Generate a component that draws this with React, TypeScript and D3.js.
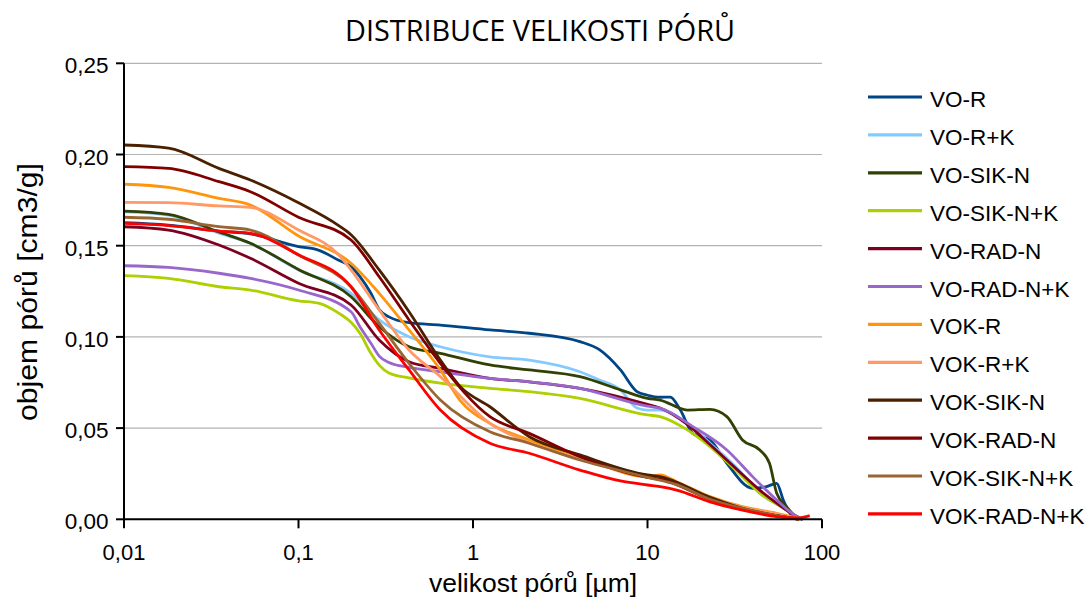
import React from "react";
import * as d3 from "d3";

const TITLE = "DISTRIBUCE VELIKOSTI PÓRŮ";
const X_TITLE = "velikost pórů [µm]";
const Y_TITLE = "objem pórů [cm3/g]";
const X_TICKS = [0.01, 0.1, 1, 10, 100];
const X_TICK_LABELS = ["0,01", "0,1", "1", "10", "100"];
const Y_TICKS = [0, 0.05, 0.1, 0.15, 0.2, 0.25];
const Y_TICK_LABELS = ["0,00", "0,05", "0,10", "0,15", "0,20", "0,25"];

const SERIES_NAMES = [
  "VO-R", "VO-R+K", "VO-SIK-N", "VO-SIK-N+K", "VO-RAD-N", "VO-RAD-N+K",
  "VOK-R", "VOK-R+K", "VOK-SIK-N", "VOK-RAD-N", "VOK-SIK-N+K", "VOK-RAD-N+K",
];
const SERIES_COLORS = [
  "#004586", "#83caff", "#314004", "#aecf00", "#7e0021", "#9966cc",
  "#ff950e", "#ff9966", "#4b2000", "#800000", "#996633", "#ff0000",
];

// [pore size µm, volume cm3/g]
const VO_R: [number, number][] = [
  [0.01, 0.1626], [0.018, 0.1613], [0.035, 0.158], [0.053, 0.1565], [0.1, 0.1495], [0.13, 0.1476],
  [0.17, 0.142], [0.2, 0.1385], [0.225, 0.133], [0.26, 0.1239], [0.29, 0.115], [0.33, 0.111],
  [0.43, 0.1078], [0.65, 0.1065], [1.25, 0.1038], [2.1, 0.102], [4.1, 0.0974], [5.3, 0.093],
  [7, 0.0819], [8.7, 0.07], [10, 0.068], [11.8, 0.0669], [13.5, 0.067], [15.4, 0.06],
  [18.2, 0.047], [22.8, 0.0435], [28.5, 0.0307], [40, 0.017], [48, 0.0179], [55, 0.0197],
  [60, 0.0106], [68, 0.0014], [77.5, 0],
];
const VO_R_K: [number, number][] = [
  [0.01, 0.1686], [0.018, 0.1668], [0.035, 0.1568], [0.053, 0.1513], [0.1, 0.1367], [0.2, 0.1239],
  [0.29, 0.1093], [0.43, 0.1001], [0.65, 0.0946], [1.25, 0.0891], [2.1, 0.0873], [4.1, 0.0809],
  [5.3, 0.0764], [7, 0.0709], [8.7, 0.061], [10, 0.0599], [11.8, 0.0599], [16.9, 0.0526],
  [22.8, 0.0417], [32, 0.0288], [44, 0.0143], [62.6, 0.005], [74, 0],
];
const VO_SIK_N: [number, number][] = [
  [0.01, 0.169], [0.018, 0.1672], [0.035, 0.1575], [0.053, 0.1513], [0.1, 0.137], [0.2, 0.122],
  [0.29, 0.1056], [0.43, 0.0946], [0.65, 0.091], [1.25, 0.0846], [2.1, 0.0819], [4.1, 0.0782],
  [7, 0.071], [10, 0.0663], [11.8, 0.0654], [16.9, 0.0599], [22.8, 0.0603], [28.5, 0.0563],
  [35, 0.0435], [44, 0.038], [50, 0.0307], [55, 0.0143], [62.6, 0.0069], [68, 0.003], [77.5, 0],
];
const VO_SIK_N_K: [number, number][] = [
  [0.01, 0.1336], [0.018, 0.1321], [0.035, 0.1275], [0.053, 0.1257], [0.1, 0.1198], [0.13, 0.1185],
  [0.17, 0.113], [0.2, 0.108], [0.225, 0.102], [0.26, 0.091], [0.29, 0.0845], [0.33, 0.0802],
  [0.43, 0.0775], [0.65, 0.0746], [1.25, 0.0718], [2.1, 0.07], [4.1, 0.0663], [10, 0.0572],
  [11.8, 0.0563], [16.9, 0.049], [22.8, 0.0398], [32, 0.027], [44, 0.0143], [62.6, 0.005], [74, 0],
];
const VO_RAD_N: [number, number][] = [
  [0.01, 0.1604], [0.018, 0.1586], [0.035, 0.1504], [0.053, 0.1431], [0.1, 0.1294], [0.2, 0.1175],
  [0.29, 0.0983], [0.43, 0.0864], [0.65, 0.0828], [1.25, 0.0773], [2.1, 0.0754], [4.1, 0.0718],
  [10, 0.063], [11.8, 0.061], [16.9, 0.052], [22.8, 0.041], [32, 0.028], [44, 0.016],
  [62.6, 0.005], [74, 0],
];
const VO_RAD_N_K: [number, number][] = [
  [0.01, 0.139], [0.018, 0.1381], [0.035, 0.1349], [0.053, 0.1321], [0.1, 0.1257], [0.2, 0.1138],
  [0.225, 0.1056], [0.26, 0.0965], [0.29, 0.0895], [0.33, 0.086], [0.43, 0.0833], [0.65, 0.0809],
  [1.25, 0.0773], [2.1, 0.0754], [4.1, 0.0718], [10, 0.062], [11.8, 0.0609], [18.2, 0.0508],
  [28.5, 0.038], [40, 0.0234], [55, 0.0106], [68, 0.003], [77.5, 0],
];
const VOK_R: [number, number][] = [
  [0.01, 0.1837], [0.018, 0.182], [0.035, 0.176], [0.053, 0.1723], [0.1, 0.1553], [0.2, 0.1404],
  [0.29, 0.1239], [0.43, 0.1038], [0.65, 0.0819], [0.84, 0.0654], [1.25, 0.0526], [2.1, 0.0435],
  [4.1, 0.0343], [10, 0.0234], [11.8, 0.0243], [14.7, 0.0206], [22.8, 0.0124], [35, 0.0069],
  [55, 0.0033], [74, 0.0005],
];
const VOK_R_K: [number, number][] = [
  [0.01, 0.1738], [0.018, 0.1736], [0.035, 0.1718], [0.053, 0.171], [0.1, 0.1586], [0.17, 0.145],
  [0.2, 0.1367], [0.29, 0.1148], [0.43, 0.0928], [0.65, 0.0782], [1.25, 0.0526], [2.1, 0.042],
  [4.1, 0.033], [10, 0.023], [14.7, 0.02], [22.8, 0.012], [35, 0.0065], [55, 0.003], [74, 0],
];
const VOK_SIK_N: [number, number][] = [
  [0.01, 0.2052], [0.018, 0.2035], [0.035, 0.1924], [0.053, 0.186], [0.1, 0.1735], [0.17, 0.161],
  [0.2, 0.156], [0.29, 0.1367], [0.43, 0.1138], [0.65, 0.0873], [0.84, 0.073], [1.25, 0.0617],
  [2.1, 0.0453], [4.1, 0.0353], [10, 0.0243], [11.8, 0.0234], [22.8, 0.012], [35, 0.006],
  [55, 0.002], [74, 0],
];
const VOK_RAD_N: [number, number][] = [
  [0.01, 0.1933], [0.018, 0.1924], [0.035, 0.1851], [0.053, 0.1796], [0.1, 0.1656], [0.2, 0.1531],
  [0.29, 0.133], [0.43, 0.1093], [0.65, 0.0855], [1.25, 0.0563], [2.1, 0.0471], [4.1, 0.0343],
  [10, 0.023], [11.8, 0.022], [22.8, 0.011], [35, 0.0055], [55, 0.002], [74, 0],
];
const VOK_SIK_N_K: [number, number][] = [
  [0.01, 0.1656], [0.018, 0.1645], [0.035, 0.1604], [0.053, 0.1586], [0.1, 0.1449], [0.2, 0.1275],
  [0.29, 0.1075], [0.43, 0.0855], [0.65, 0.0654], [1.25, 0.048], [2.1, 0.0417], [4.1, 0.0325],
  [10, 0.023], [14.7, 0.019], [22.8, 0.011], [35, 0.006], [55, 0.002], [74, 0],
];
const VOK_RAD_N_K: [number, number][] = [
  [0.01, 0.1622], [0.018, 0.161], [0.035, 0.158], [0.053, 0.1568], [0.1, 0.145], [0.2, 0.1275],
  [0.29, 0.1038], [0.43, 0.0819], [0.65, 0.0599], [1.25, 0.0417], [2.1, 0.0362], [4.1, 0.027],
  [7, 0.021], [10, 0.0188], [11.8, 0.0179], [14.7, 0.016], [22.8, 0.0096], [35, 0.005],
  [55, 0.0015], [74, 0.0008], [85, 0.002],
];

const SERIES_DATA = [
  VO_R, VO_R_K, VO_SIK_N, VO_SIK_N_K, VO_RAD_N, VO_RAD_N_K,
  VOK_R, VOK_R_K, VOK_SIK_N, VOK_RAD_N, VOK_SIK_N_K, VOK_RAD_N_K,
];

const LEFT = 124, RIGHT = 822, TOP = 63.3, BOTTOM = 519.3;

export default function App() {
  const x = d3.scaleLog().domain([0.01, 100]).range([LEFT, RIGHT]);
  const y = d3.scaleLinear().domain([0, 0.25]).range([BOTTOM, TOP]);
  const line = d3
    .line<[number, number]>()
    .x((d) => x(d[0]))
    .y((d) => y(d[1]))
    .curve(d3.curveMonotoneX);
  const font = "'Liberation Sans', Arial, sans-serif";

  return (
    <svg
      width={1088}
      height={600}
      style={{ position: "absolute", left: 0, top: 0, background: "#fff" }}
    >
      <text
        x={540}
        y={41}
        textAnchor="middle"
        fontFamily="'Open Sans', sans-serif"
        fontSize={29}
        textLength={390}
        lengthAdjust="spacingAndGlyphs"
        fill="#000"
      >
        {TITLE}
      </text>

      {Y_TICKS.map((t, i) => (
        <g key={"gy" + i}>
          {t > 0 && (
            <line x1={LEFT} x2={RIGHT} y1={y(t)} y2={y(t)} stroke="#b3b3b3" strokeWidth={1.2} />
          )}
          <line x1={LEFT - 8} x2={LEFT} y1={y(t)} y2={y(t)} stroke="#000" strokeWidth={2} />
          <text
            x={LEFT - 15.5}
            y={y(t) + 10}
            textAnchor="end"
            fontFamily={font}
            fontSize={22.5}
            fill="#000"
          >
            {Y_TICK_LABELS[i]}
          </text>
        </g>
      ))}

      {X_TICKS.map((t, i) => (
        <g key={"gx" + i}>
          <line x1={x(t)} x2={x(t)} y1={BOTTOM} y2={BOTTOM + 9} stroke="#000" strokeWidth={2} />
          <text
            x={x(t)}
            y={BOTTOM + 41}
            textAnchor="middle"
            fontFamily={font}
            fontSize={22}
            fill="#000"
          >
            {X_TICK_LABELS[i]}
          </text>
        </g>
      ))}

      {SERIES_DATA.map((d, i) => (
        <path
          key={"s" + i}
          d={line(d) || ""}
          fill="none"
          stroke={SERIES_COLORS[i]}
          strokeWidth={2.8}
          strokeLinejoin="round"
        />
      ))}

      <line x1={LEFT} x2={LEFT} y1={TOP} y2={BOTTOM} stroke="#000" strokeWidth={2} />
      <line x1={LEFT} x2={RIGHT} y1={BOTTOM} y2={BOTTOM} stroke="#000" strokeWidth={2} />

      <text
        x={533}
        y={592}
        textAnchor="middle"
        fontFamily={font}
        fontSize={26.5}
        fill="#000"
      >
        {X_TITLE}
      </text>
      <text
        transform={`translate(37, 292) rotate(-90)`}
        textAnchor="middle"
        fontFamily={font}
        fontSize={28}
        textLength={258}
        lengthAdjust="spacingAndGlyphs"
        fill="#000"
      >
        {Y_TITLE}
      </text>

      {SERIES_NAMES.map((name, i) => {
        const ly = 97 + i * 37.9;
        return (
          <g key={"l" + i}>
            <line x1={868} x2={922} y1={ly} y2={ly} stroke={SERIES_COLORS[i]} strokeWidth={3.2} />
            <text x={930} y={ly + 10} fontFamily={font} fontSize={22.5} fill="#000">
              {name}
            </text>
          </g>
        );
      })}
    </svg>
  );
}
